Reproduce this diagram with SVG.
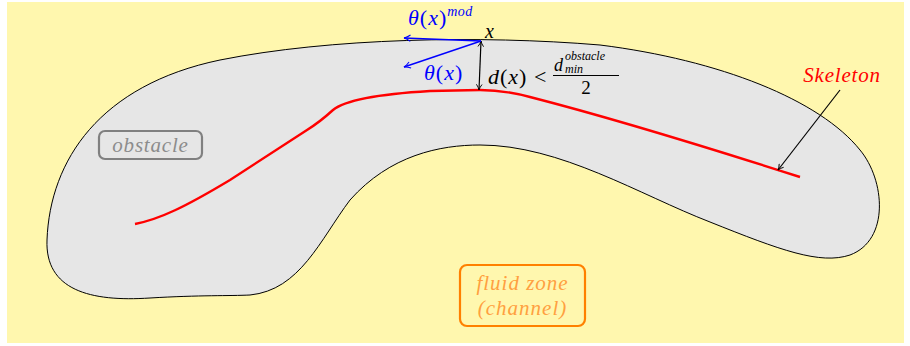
<svg xmlns="http://www.w3.org/2000/svg" width="910" height="346" viewBox="0 0 910 346">
<defs>
<style>
text{font-family:"Liberation Serif","DejaVu Serif",serif}
.it{font-style:italic}
.rm{font-style:normal}
</style>
<marker id="ab" viewBox="0 0 10 10" refX="9" refY="5" markerWidth="7" markerHeight="7" orient="auto-start-reverse" markerUnits="userSpaceOnUse"><path d="M1,1 Q5,4 9,5 Q5,6 1,9" fill="none" stroke="#000" stroke-width="1.3"/></marker>
<marker id="abl" viewBox="0 0 10 10" refX="9" refY="5" markerWidth="8" markerHeight="8" orient="auto" markerUnits="userSpaceOnUse"><path d="M1,1 Q5,4 9,5 Q5,6 1,9" fill="none" stroke="#0000ff" stroke-width="1.3"/></marker>
</defs>
<rect x="7" y="2" width="897" height="341" fill="#fff7ae"/>
<g id="obstacle-shape">
<path d="M250,295 C300,290 320,240 350,200 C390,155 440,145 480,145 C560,145 640,195 710,222 C780,250 820,265 850,255 C890,240 885,180 860,150 C820,100 720,60 600,45 C480,35 330,38 220,60 C100,85 50,160 47,240 C45,290 90,302 150,298 C200,295 230,296 250,295 Z" fill="#e6e6e6" stroke="#000" stroke-width="1"/>
</g>
<g id="skeleton">
<path d="M135,224 C160,219 185,207 230,180 L307,130 C315,125 322,120 333,110 C345,100 380,94 430,91 L480,90 C500,90 515,93 530,97 C600,115 700,145 800,177" fill="none" stroke="#ff0000" stroke-width="2.4"/>
</g>
<g id="connectors">
<line x1="481" y1="41" x2="479" y2="90" stroke="#000" stroke-width="1.2" marker-start="url(#ab)" marker-end="url(#ab)"/>
<line x1="481" y1="41" x2="404" y2="38" stroke="#0000ff" stroke-width="1.4" marker-end="url(#abl)"/>
<line x1="481" y1="41" x2="404" y2="67" stroke="#0000ff" stroke-width="1.4" marker-end="url(#abl)"/>
<line x1="840" y1="90" x2="778" y2="170" stroke="#000" stroke-width="1.2" marker-end="url(#ab)"/>
</g>
<g id="label-theta-mod">
<text x="408" y="25" class="it" font-size="22" letter-spacing="1" fill="#0000ff">θ<tspan class="rm">(</tspan>x<tspan class="rm">)</tspan><tspan font-size="14" dy="-9" letter-spacing="0.5">mod</tspan></text>
</g>
<g id="label-theta">
<text x="424" y="80" class="it" font-size="22" letter-spacing="1" fill="#0000ff">θ<tspan class="rm">(</tspan>x<tspan class="rm">)</tspan></text>
</g>
<g id="label-x">
<text x="485" y="38" class="it" font-size="20" fill="#000">x</text>
</g>
<g id="label-distance">
<text x="488" y="84" class="it" font-size="22" letter-spacing="1" fill="#000">d<tspan class="rm">(</tspan>x<tspan class="rm">) &lt;</tspan></text>
<text x="554" y="71" class="it" font-size="18" fill="#000">d</text>
<text x="565" y="60" class="it" font-size="12" fill="#000">obstacle</text>
<text x="565" y="73" class="it" font-size="12" fill="#000">min</text>
<line x1="553" y1="75.5" x2="619" y2="75.5" stroke="#000" stroke-width="1"/>
<text x="586" y="94" class="rm" font-size="19" fill="#000" text-anchor="middle">2</text>
</g>
<g id="label-skeleton">
<text x="842" y="82" class="it" font-size="21" letter-spacing="0.8" fill="#ff0000" text-anchor="middle">Skeleton</text>
</g>
<g id="node-obstacle">
<rect x="99" y="131" width="103" height="28" rx="6" fill="none" stroke="#808080" stroke-width="2.2"/>
<text x="150.5" y="152" class="it" font-size="21" letter-spacing="0.8" fill="#8c8c8c" text-anchor="middle">obstacle</text>
</g>
<g id="node-fluid">
<rect x="460" y="265" width="125" height="61" rx="7" fill="#fff7ae" stroke="#ff8000" stroke-width="2.2"/>
<text x="522.5" y="290" class="it" font-size="21" letter-spacing="1" fill="#ffa040" text-anchor="middle">fluid zone</text>
<text x="522.5" y="315" class="it" font-size="21" letter-spacing="1" fill="#ffa040" text-anchor="middle">(channel)</text>
</g>
</svg>
